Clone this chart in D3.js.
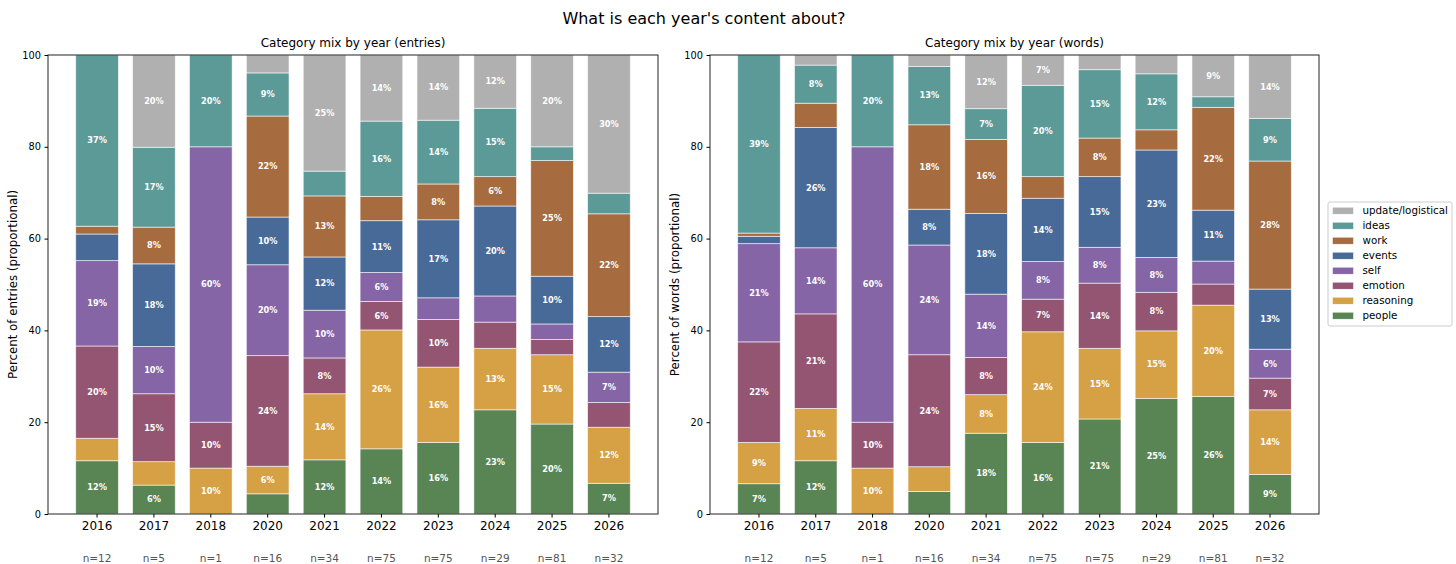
<!DOCTYPE html>
<html>
<head>
<meta charset="utf-8">
<script src="https://cdn.jsdelivr.net/npm/d3@7"></script>
<style>
  body { margin: 0; background: #fff; font-family: "DejaVu Sans", sans-serif; }
</style>
</head>
<body>
<script>
const width = 1456;
const height = 564;

// x categories and sample sizes
const years = ["2016", "2017", "2018", "2020", "2021", "2022", "2023", "2024", "2025", "2026"];
const nCounts = [12, 5, 1, 16, 34, 75, 75, 29, 81, 32];

// stack order, bottom -> top
const categories = ["people", "reasoning", "emotion", "self", "events", "work", "ideas", "update/logistical"];
const colors = ["#598555", "#d6a045", "#935572", "#8565a5", "#486a98", "#a66b3e", "#5c9a98", "#b0b0b0"];

// share of entries (%) per category, one value per year
const entPeople    = [11.6, 6.3, 0, 4.4, 11.8, 14.2, 15.6, 22.7, 19.6, 6.7];
const entReasoning = [4.9, 5.1, 10, 6.0, 14.4, 25.9, 16.4, 13.4, 15.1, 12.2];
const entEmotion   = [20.1, 14.8, 10, 24.1, 7.8, 6.2, 10.4, 5.7, 3.3, 5.4];
const entSelf      = [18.6, 10.3, 60, 19.8, 10.4, 6.3, 4.7, 5.7, 3.4, 6.6];
const entEvents    = [5.8, 18.0, 0, 10.4, 11.6, 11.3, 17.0, 19.6, 10.4, 12.1];
const entWork      = [1.7, 8.0, 0, 22.0, 13.3, 5.3, 7.8, 6.4, 25.2, 22.4];
const entIdeas     = [37.3, 17.4, 20, 9.4, 5.4, 16.4, 13.9, 14.9, 3.0, 4.5];
const entUpdate    = [0, 20.1, 0, 3.9, 25.3, 14.4, 14.2, 11.6, 20.0, 30.1];

// share of words (%) per category, one value per year
const wrdPeople    = [6.6, 11.6, 0, 4.9, 17.6, 15.6, 20.7, 25.2, 25.6, 8.6];
const wrdReasoning = [9.0, 11.4, 10, 5.4, 8.4, 24.1, 15.4, 14.7, 19.9, 14.1];
const wrdEmotion   = [21.9, 20.6, 10, 24.4, 8.1, 7.1, 14.2, 8.4, 4.6, 6.9];
const wrdSelf      = [21.4, 14.4, 60, 23.9, 13.8, 8.2, 7.8, 7.6, 5.0, 6.3];
const wrdEvents    = [1.6, 26.2, 0, 7.8, 17.6, 13.8, 15.4, 23.4, 11.1, 13.1];
const wrdWork      = [0.7, 5.3, 0, 18.4, 16.1, 4.7, 8.4, 4.4, 22.4, 27.9];
const wrdIdeas     = [38.8, 8.3, 20, 12.7, 6.7, 19.9, 14.9, 12.2, 2.3, 9.3];
const wrdUpdate    = [0, 2.2, 0, 2.5, 11.7, 6.6, 3.2, 4.1, 9.1, 13.8];

const entSeries = [entPeople, entReasoning, entEmotion, entSelf, entEvents, entWork, entIdeas, entUpdate];
const wrdSeries = [wrdPeople, wrdReasoning, wrdEmotion, wrdSelf, wrdEvents, wrdWork, wrdIdeas, wrdUpdate];

// turn the per-category arrays into rows d3.stack understands
function toRows(series) {
  return years.map((yr, i) => {
    const row = { year: yr };
    categories.forEach((c, k) => { row[c] = series[k][i]; });
    return row;
  });
}

const color = d3.scaleOrdinal().domain(categories).range(colors);

const svg = d3.select("body").append("svg")
  .attr("width", width)
  .attr("height", height);

svg.append("text")
  .attr("x", 704).attr("y", 24)
  .attr("text-anchor", "middle")
  .style("font-size", "16px")
  .text("What is each year's content about?");

const plotTop = 55, plotBottom = 514;

function panel(x0, x1, title, ylabel, series, ylabelX) {
  const rows = toRows(series);
  const stack = d3.stack().keys(categories)(rows);

  const x = d3.scaleBand()
    .domain(years)
    .range([x0, x1])
    .paddingInner(0.25)
    .paddingOuter(0.4875);

  const y = d3.scaleLinear().domain([0, 100]).range([plotBottom, plotTop]);

  const g = svg.append("g");

  const layer = g.selectAll("g.layer")
    .data(stack)
    .enter().append("g")
    .attr("class", "layer")
    .attr("fill", d => color(d.key));

  layer.selectAll("rect")
    .data(d => d)
    .enter().append("rect")
    .attr("x", d => x(d.data.year))
    .attr("width", x.bandwidth())
    .attr("y", d => y(d[1]))
    .attr("height", d => y(d[0]) - y(d[1]))
    .attr("stroke", "#fff")
    .attr("stroke-opacity", 0.7)
    .attr("stroke-width", 0.8);

  // percent labels for segments of 6% or more
  layer.selectAll("text")
    .data(d => d.filter(s => s[1] - s[0] >= 6))
    .enter().append("text")
    .attr("x", d => x(d.data.year) + x.bandwidth() / 2)
    .attr("y", d => y((d[0] + d[1]) / 2))
    .attr("dy", "0.35em")
    .attr("text-anchor", "middle")
    .attr("fill", "#fff")
    .style("font-size", "8.2px")
    .style("font-weight", "bold")
    .text(d => Math.round(d[1] - d[0]) + "%");

  // frame
  g.append("rect")
    .attr("x", x0).attr("y", plotTop)
    .attr("width", x1 - x0).attr("height", plotBottom - plotTop)
    .attr("fill", "none")
    .attr("stroke", "#222")
    .attr("stroke-width", 1);

  const yAxis = g.append("g")
    .attr("transform", `translate(${x0},0)`)
    .call(d3.axisLeft(y).tickValues([0, 20, 40, 60, 80, 100]).tickSize(3.5).tickPadding(3.5));
  yAxis.select(".domain").remove();
  yAxis.selectAll("text").style("font-size", "9.8px").style("font-family", "DejaVu Sans");

  const xAxis = g.append("g")
    .attr("transform", `translate(0,${plotBottom})`)
    .call(d3.axisBottom(x).tickSize(3.5).tickPadding(4));
  xAxis.select(".domain").remove();
  xAxis.selectAll("text").style("font-size", "12px").style("font-family", "DejaVu Sans");

  g.selectAll("text.n")
    .data(years)
    .enter().append("text")
    .attr("class", "n")
    .attr("x", d => x(d) + x.bandwidth() / 2)
    .attr("y", 562)
    .attr("text-anchor", "middle")
    .attr("fill", "#555")
    .style("font-size", "10.5px")
    .text((d, i) => "n=" + nCounts[i]);

  g.append("text")
    .attr("x", (x0 + x1) / 2).attr("y", 47)
    .attr("text-anchor", "middle")
    .style("font-size", "12px")
    .text(title);

  g.append("text")
    .attr("transform", `translate(${ylabelX},${(plotTop + plotBottom) / 2}) rotate(-90)`)
    .attr("text-anchor", "middle")
    .style("font-size", "11.8px")
    .text(ylabel);
}

panel(48, 658, "Category mix by year (entries)", "Percent of entries (proportional)", entSeries, 17);
panel(710, 1319, "Category mix by year (words)", "Percent of words (proportional)", wrdSeries, 679);

// legend, top entry first
const legend = svg.append("g");
legend.append("rect")
  .attr("x", 1328).attr("y", 202)
  .attr("width", 124).attr("height", 124)
  .attr("rx", 2)
  .attr("fill", "#fff")
  .attr("stroke", "#ccc");

const legendKeys = categories.slice().reverse();
const item = legend.selectAll("g.item")
  .data(legendKeys)
  .enter().append("g")
  .attr("class", "item")
  .attr("transform", (d, i) => `translate(1332.5,${210.7 + i * 15})`);

item.append("rect")
  .attr("x", 0).attr("y", -3.5)
  .attr("width", 21).attr("height", 7)
  .attr("fill", d => color(d))
  .attr("stroke", "#fff")
  .attr("stroke-width", 0.5);

item.append("text")
  .attr("x", 30).attr("dy", "0.35em")
  .style("font-size", "10.3px")
  .text(d => d);
</script>
</body>
</html>
